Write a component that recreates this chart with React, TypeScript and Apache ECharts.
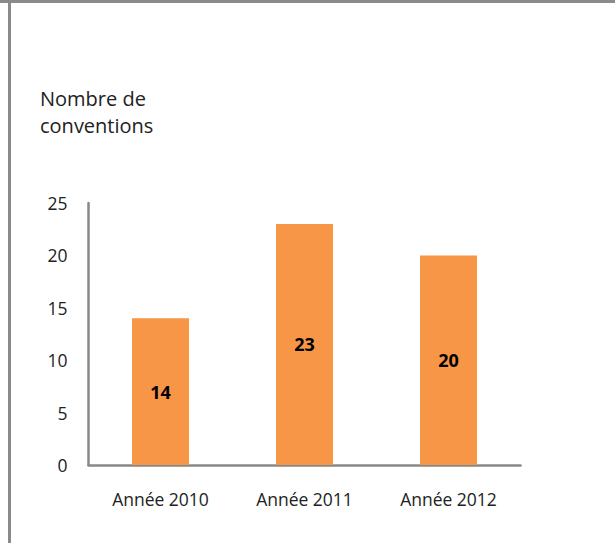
import React, { useEffect, useRef } from "react";
import * as echarts from "echarts";

const categories = ["Année 2010", "Année 2011", "Année 2012"];
const values = [14, 23, 20];
const yTicks = [0, 5, 10, 15, 20, 25];
const titleLines = ["Nombre de", "conventions"];

export default function App() {
  const ref = useRef<HTMLDivElement>(null);
  useEffect(() => {
    document.body.style.margin = "0";
    const chart = echarts.init(ref.current!, null, { renderer: "svg" });
    const font = "'Open Sans', 'Noto Sans', sans-serif";
    chart.setOption({
      animation: false,
      backgroundColor: "#ffffff",
      graphic: [
        { type: "rect", shape: { x: 0, y: 0, width: 615, height: 3 }, style: { fill: "#8a8a8a" }, silent: true },
        { type: "rect", shape: { x: 8, y: 0, width: 3, height: 543 }, style: { fill: "#8a8a8a" }, silent: true },
        {
          type: "text",
          left: 40,
          top: 85,
          style: { text: titleLines.join("\n"), font: `20px ${font}`, fill: "#222", lineHeight: 27 },
        },
      ],
      grid: { left: 88.5, right: 94.5, top: 203, bottom: 78, containLabel: false },
      xAxis: {
        type: "category",
        data: categories,
        axisLine: { lineStyle: { color: "#888", width: 2.5 } },
        axisTick: { show: false },
        axisLabel: { color: "#222", fontSize: 17.5, fontFamily: font, margin: 25 },
      },
      yAxis: {
        type: "value",
        min: yTicks[0],
        max: yTicks[yTicks.length - 1],
        interval: 5,
        axisLine: { show: true, lineStyle: { color: "#888", width: 2.5 } },
        axisTick: { show: false },
        splitLine: { show: false },
        axisLabel: { color: "#222", fontSize: 17.5, fontFamily: font, margin: 21 },
      },
      series: [
        {
          type: "bar",
          data: values,
          barWidth: 57,
          itemStyle: { color: "#F79646" },
          label: {
            show: true,
            position: "inside",
            color: "#000",
            fontWeight: "bold",
            fontSize: 18,
            fontFamily: font,
          },
        },
      ],
    });
    return () => chart.dispose();
  }, []);
  return <div ref={ref} style={{ width: 615, height: 543 }} />;
}
